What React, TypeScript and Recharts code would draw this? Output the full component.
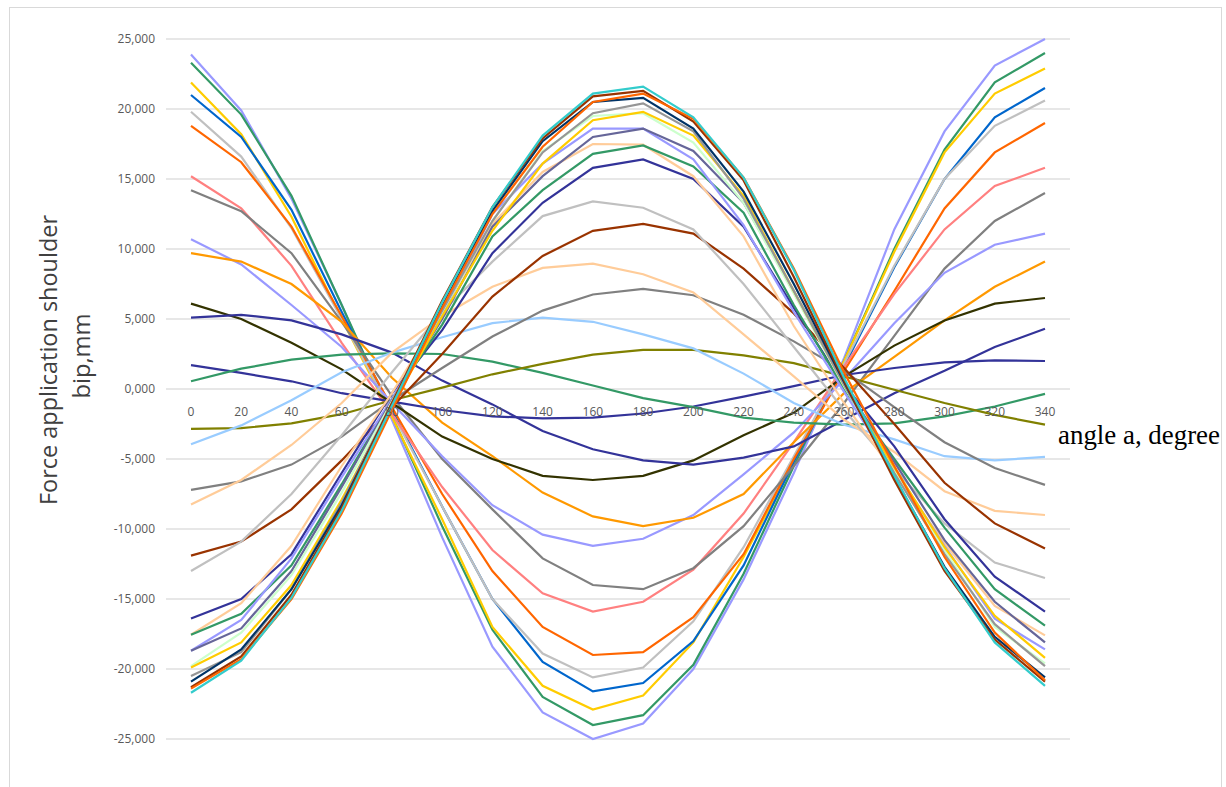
import React from 'react';
import { LineChart, Line, XAxis, YAxis, CartesianGrid, ReferenceDot } from 'recharts';

const angles = [0, 20, 40, 60, 80, 100, 120, 140, 160, 180, 200, 220, 240, 260, 280, 300, 320, 340];
const yTicks = [-25000, -20000, -15000, -10000, -5000, 0, 5000, 10000, 15000, 20000, 25000];
const yTickLabels = ['-25,000', '-20,000', '-15,000', '-10,000', '-5,000', '0,000', '5,000', '10,000', '15,000', '20,000', '25,000'];

const s01 = [23900, 19900, 13600, 6000, -2200, -10600, -18400, -23100, -25000, -23900, -20000, -13600, -6000, 2200, 11400, 18400, 23100, 25000];
const s02 = [23300, 19600, 13800, 6000, -1900, -9800, -17200, -22000, -24000, -23300, -19700, -13200, -5500, 2000, 10000, 17100, 21900, 24000];
const s03 = [21900, 18200, 12300, 5000, -2000, -9300, -17000, -21200, -22900, -21900, -18100, -12000, -5200, 2000, 9800, 16900, 21100, 22900];
const s04 = [21000, 18000, 12800, 5500, -1500, -8400, -15000, -19500, -21600, -21000, -18000, -12600, -5200, 1600, 8700, 15000, 19400, 21500];
const s05 = [19800, 16600, 11500, 5000, -1700, -8400, -15000, -18900, -20600, -19900, -16600, -11300, -4800, 1800, 8800, 15000, 18800, 20600];
const s06 = [18800, 16200, 11600, 5200, -1300, -7500, -13000, -17000, -19000, -18800, -16300, -11800, -5000, 1300, 7000, 12900, 16900, 19000];
const s07 = [15200, 12900, 8800, 3300, -1800, -7000, -11500, -14600, -15900, -15200, -12900, -8900, -3800, 1600, 6800, 11400, 14500, 15800];
const s08 = [14200, 12700, 9700, 4800, -500, -5000, -8600, -12100, -14000, -14300, -12800, -9800, -5500, -1000, 3800, 8600, 12000, 14000];
const s09 = [10700, 8900, 6000, 3000, -1000, -4800, -8300, -10400, -11200, -10700, -9000, -6100, -3100, 700, 4700, 8300, 10300, 11100];
const s10 = [9700, 9100, 7500, 4800, 800, -2400, -4800, -7400, -9100, -9800, -9200, -7500, -3800, -300, 2300, 4900, 7300, 9100];
const s11 = [6100, 5000, 3300, 1400, -1000, -3400, -5000, -6200, -6500, -6200, -5100, -3300, -1700, 900, 3100, 4900, 6100, 6500];
const s12 = [5100, 5300, 4900, 3900, 2600, 600, -1100, -3000, -4300, -5100, -5400, -4900, -4100, -2200, -300, 1300, 3000, 4300];
const s13 = [1700, 1150, 550, -300, -900, -1500, -1950, -2100, -2050, -1750, -1250, -550, 200, 1000, 1500, 1900, 2050, 2000];
const s14 = [550, 1450, 2100, 2450, 2550, 2500, 1950, 1150, 250, -650, -1300, -2050, -2400, -2550, -2450, -1950, -1250, -350];
const s15 = [-2850, -2800, -2450, -1800, -800, 100, 1050, 1800, 2450, 2800, 2800, 2400, 1850, 900, -50, -1000, -1850, -2550];
const s16 = [-3950, -2600, -800, 1200, 2600, 3700, 4700, 5100, 4800, 3900, 2900, 1100, -1000, -2550, -3600, -4800, -5100, -4850];
const s17 = [-7200, -6600, -5400, -3400, -800, 1500, 3750, 5600, 6750, 7150, 6700, 5300, 3400, 1300, -1300, -3800, -5650, -6850];
const s18 = [-8250, -6500, -4000, -1000, 2600, 5200, 7300, 8650, 8950, 8200, 6900, 3900, 900, -2200, -4500, -7300, -8700, -9000];
const s19 = [-11900, -10900, -8600, -5100, -1300, 2500, 6600, 9500, 11300, 11800, 11100, 8600, 5400, 1500, -2500, -6700, -9600, -11400];
const s20 = [-13000, -10900, -7500, -3300, 1200, 5500, 9100, 12350, 13400, 12950, 11400, 7500, 3000, -1500, -5700, -9600, -12400, -13500];
const s21 = [-16400, -15000, -11800, -6000, -300, 4200, 9700, 13300, 15800, 16400, 15000, 11600, 5800, 300, -4100, -9300, -13400, -15900];
const s22 = [-17550, -15300, -11200, -5500, -300, 5500, 11800, 15500, 17500, 17450, 15200, 10900, 4500, -1000, -6000, -11000, -15500, -17600];
const s23 = [-17550, -16050, -12600, -6800, -700, 4600, 10900, 14200, 16800, 17400, 15900, 12600, 6000, 0, -5000, -9900, -14300, -16900];
const s24 = [-18700, -16500, -12100, -6300, -700, 5300, 12500, 16100, 18600, 18600, 16400, 11700, 5500, -200, -5700, -11200, -16400, -18600];
const s25 = [-18700, -17100, -13000, -7000, -800, 5000, 11600, 15200, 18000, 18600, 17000, 13300, 7000, 300, -5200, -10800, -15200, -18100];
const s26 = [-19800, -17400, -13300, -7400, -900, 5500, 12000, 17000, 19500, 19700, 17600, 13300, 6800, 200, -5800, -11500, -17000, -19600];
const s27 = [-19900, -18100, -14000, -7900, -1200, 5200, 11300, 16100, 19200, 19800, 18100, 13800, 7000, 300, -5600, -11300, -16200, -19200];
const s28 = [-20500, -18800, -14300, -8100, -1000, 5600, 12000, 16900, 19700, 20400, 18400, 13600, 7000, 300, -6000, -11800, -16800, -19800];
const s29 = [-20900, -18600, -14300, -8300, -1100, 5900, 12700, 17700, 20500, 20800, 18600, 14100, 7500, 500, -6300, -12700, -17700, -20600];
const s30 = [-21300, -19100, -14700, -8500, -1000, 6300, 13000, 17900, 20900, 21300, 19100, 14900, 8000, 600, -6500, -13000, -17900, -20900];
const s31 = [-21400, -19300, -15000, -8900, -1500, 5800, 12500, 17300, 20500, 21100, 19300, 15100, 8600, 1200, -5500, -12000, -17400, -20800];
const s32 = [-21700, -19400, -14900, -8700, -1200, 6200, 13000, 18100, 21100, 21600, 19400, 15100, 8500, 800, -6200, -12800, -18100, -21200];

const seriesValues = [s01, s02, s03, s04, s05, s06, s07, s08, s09, s10, s11, s12, s13, s14, s15, s16, s17, s18, s19, s20, s21, s22, s23, s24, s25, s26, s27, s28, s29, s30, s31, s32];
const seriesColors = [
  '#9999FF', '#339966', '#FFCC00', '#0066CC', '#C0C0C0', '#FF6600', '#FF8080', '#808080',
  '#9999FF', '#FF9900', '#333300', '#333399', '#333399', '#339966', '#808000', '#99CCFF',
  '#808080', '#FFCC99', '#993300', '#C0C0C0', '#333399', '#FFCC99', '#339966', '#9999FF',
  '#666699', '#CCFFCC', '#FFCC00', '#969696', '#003366', '#993300', '#FF6600', '#33CCCC',
];

const data = angles.map((a, i) => {
  const row: Record<string, number> = { angle: a };
  seriesValues.forEach((vals, k) => {
    row['s' + k] = vals[i];
  });
  return row;
});

const tickFont = { fill: '#595959', fontSize: 12, fontFamily: 'Open Sans' };

export default function App() {
  return (
    <div style={{ position: 'absolute', left: 0, top: 0, width: 1226, height: 787, overflow: 'hidden', background: '#ffffff' }}>
      <div style={{ position: 'absolute', left: 9, top: 7, width: 1213, height: 820, border: '1px solid #d9d9d9', boxSizing: 'border-box' }} />
      <div style={{ position: 'absolute', left: 0, top: 0 }}>
        <LineChart width={1226} height={787} data={data} margin={{ top: 39, right: 156, bottom: 48, left: 0 }}>
          <CartesianGrid vertical={false} stroke="#cfcfcf" strokeWidth={1} />
          <XAxis dataKey="angle" hide padding={{ left: 25, right: 25 }} />
          <YAxis
            width={166}
            domain={[-25000, 25000]}
            ticks={yTicks}
            interval={0}
            axisLine={false}
            tickLine={false}
            tickMargin={5}
            tick={tickFont}
            tickFormatter={(v: number) => yTickLabels[yTicks.indexOf(v)]}
          />
          {seriesValues.map((_, k) => (
            <Line
              key={'s' + k}
              type="linear"
              dataKey={'s' + k}
              stroke={seriesColors[k]}
              strokeWidth={2.2}
              dot={false}
              activeDot={false}
              isAnimationActive={false}
            />
          ))}
          {angles.map((a) => (
            <ReferenceDot
              key={'lbl' + a}
              x={a}
              y={0}
              r={0}
              fill="none"
              stroke="none"
              label={{ value: String(a), position: 'bottom', offset: 18, ...tickFont }}
            />
          ))}
        </LineChart>
      </div>
      <svg width={1226} height={787} style={{ position: 'absolute', left: 0, top: 0, pointerEvents: 'none' }}>
        <text
          x={57}
          y={360}
          transform="rotate(-90 57 360)"
          textAnchor="middle"
          fontFamily="Open Sans"
          fontSize={24}
          fill="#404040"
          textLength={290}
          lengthAdjust="spacingAndGlyphs"
        >
          Force application shoulder
        </text>
        <text
          x={90}
          y={356}
          transform="rotate(-90 90 356)"
          textAnchor="middle"
          fontFamily="Open Sans"
          fontSize={24}
          fill="#404040"
          textLength={85}
          lengthAdjust="spacingAndGlyphs"
        >
          bip,mm
        </text>
        <text
          x={1058}
          y={444}
          fontFamily="Liberation Serif"
          fontSize={27}
          fill="#000000"
          textLength={162}
          lengthAdjust="spacingAndGlyphs"
        >
          angle a, degree
        </text>
      </svg>
    </div>
  );
}
